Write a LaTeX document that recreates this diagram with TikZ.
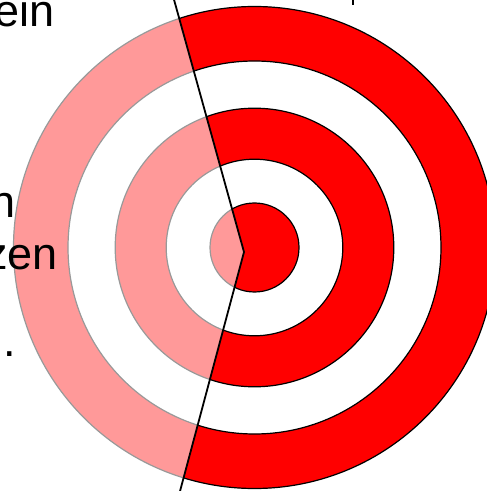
\documentclass[tikz,border=0pt]{standalone}
\usepackage{fontspec}
\setmainfont{Liberation Sans}

% target: filled rings, then the outlines
\newcommand{\drawtarget}[2]{%
  \fill[#1, even odd rule] (ctr) circle (241pt) circle (186.5pt)
    circle (139.3pt) circle (88.3pt) circle (44.5pt);
  \foreach \rad in {241,186.5,139.3,88.3,44.5}
    \draw[#2, line width=1.2pt] (ctr) circle (\rad pt);
}

\begin{document}
\begin{tikzpicture}[
x=1pt,
y=1pt,
every node/.style={
inner sep=0pt,
anchor=base east,
font=\fontsize{45}{52}\selectfont
},
divider/.style={
line width=1.8pt
}
]

\useasboundingbox (0,0) rectangle (487,491);
\clip (0,0) rectangle (487,491);

\coordinate (ctr) at (254.5,243.5);
\coordinate (cuttop) at (173,495);
\coordinate (cutmid) at (244,239);
\coordinate (cutbot) at (179,-4);

% faded half
\begin{scope}
\clip (-5,-5) -- (-5,496) -- (cuttop) -- (cutmid) -- (cutbot) -- cycle;
\drawtarget{red!40}{black!40}
\end{scope}

% full half
\begin{scope}
\clip (cuttop) -- (492,496) -- (492,-5) -- (cutbot) -- (cutmid) -- cycle;
\drawtarget{red}{black}
\end{scope}

\draw[divider] (cuttop) -- (cutmid) -- (cutbot);

\coordinate (ticktop) at (353,495);
\coordinate (tickbot) at (353,486);
\draw[line width=1.6pt] (ticktop) -- (tickbot);

\node (ein) at (55,464) {ein};
\node (n) at (16,273) {n};
\node (zen) at (58,221) {zen};
\node (dot) at (16,134) {.};

\end{tikzpicture}
\end{document}
